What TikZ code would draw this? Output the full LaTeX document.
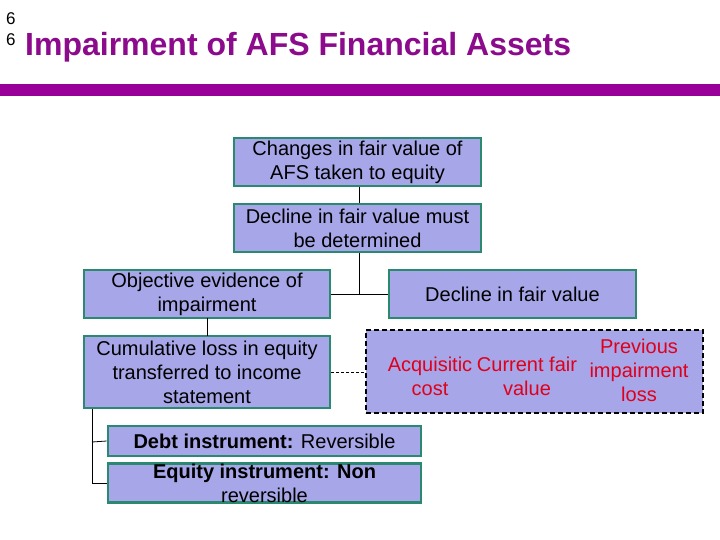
\documentclass[tikz,border=0pt]{standalone}
\usepackage{fontspec}
\setmainfont{Liberation Sans}
\definecolor{boxfill}{HTML}{A6A6E8}
\definecolor{boxline}{HTML}{2A8A70}
\definecolor{titlecol}{HTML}{8C0A8C}
\definecolor{barcol}{HTML}{990099}
\definecolor{redtxt}{HTML}{E0001B}
\tikzset{
  fbox/.style={draw=boxline, line width=2.6pt, fill=boxfill, inner sep=0pt, align=center,
     font=\fontsize{20}{24}\selectfont},
  conn/.style={draw=black, line width=0.8pt},
  redlbl/.style={text=redtxt, align=center, font=\fontsize{20}{24}\selectfont, inner sep=0pt}
}
\begin{document}
\begin{tikzpicture}[x=1pt,y=-1pt]
\useasboundingbox (0,0) rectangle (720,540);
\fill[white] (0,0) rectangle (720,540);
% header
\node[anchor=base west, inner sep=0pt, font=\fontsize{17}{17}\selectfont] (n1) at (6,25) {6};
\node[anchor=base west, inner sep=0pt, font=\fontsize{17}{17}\selectfont] (n2) at (6,46) {6};
\node[anchor=base west, inner sep=0pt, text=titlecol, font=\fontsize{32}{34}\selectfont\bfseries] (title) at (25,56) {Impairment of AFS Financial Assets};
\fill[barcol] (0,84) rectangle (720,96);
% boxes
\node[fbox, minimum width=247pt, minimum height=48pt] (b1) at (357.5,162) {Changes in fair value of\\AFS taken to equity};
\node[fbox, minimum width=247pt, minimum height=48pt] (b2) at (357.5,228) {Decline in fair value must\\be determined};
\node[fbox, minimum width=246pt, minimum height=48pt] (b3) at (207,294) {Objective evidence of\\impairment};
\node[fbox, minimum width=246pt, minimum height=72pt] (b4) at (207,372) {Cumulative loss in equity\\transferred to income\\statement};
\node[fbox, minimum width=247pt, minimum height=48pt] (b5) at (512.5,294) {Decline in fair value};
\node[draw=black, dashed, dash pattern=on 5pt off 3pt, line width=2pt, fill=boxfill, minimum width=337pt, minimum height=83pt, inner sep=0pt] (b6) at (534.5,371.5) {};
\node[redlbl] (r1) at (430,376) {Acquisitic\\cost};
\node[redlbl] (r2) at (527,376) {Current fair\\value};
\node[redlbl] (r3) at (639,370) {Previous\\impairment\\loss};
\node[fbox, minimum width=313pt, minimum height=30pt] (b7) at (264.5,441) {\textbf{Debt instrument:} Reversible};
\node[fbox, minimum width=313pt, minimum height=30pt] (b8) at (264.5,483) {\textbf{Equity instrument: Non}\\reversible};
% connectors
\coordinate (j1) at (359,294);
\coordinate (j2) at (92,442);
\coordinate (j3) at (92,483);
\draw[conn] (b1.south -| j1) -- (b2.north -| j1);
\draw[conn] (b2.south -| j1) -- (j1);
\draw[conn] (b3.east) -- (b5.west);
\draw[conn] (207,318) -- (207,336);
\draw[conn, densely dashed] (b4.east) -- (b4.east -| b6.west);
\draw[conn] (b4.south -| j2) -- (j3) -- (b8.west);
\draw[conn] (j2) -- (b7.west);
\end{tikzpicture}
\end{document}
